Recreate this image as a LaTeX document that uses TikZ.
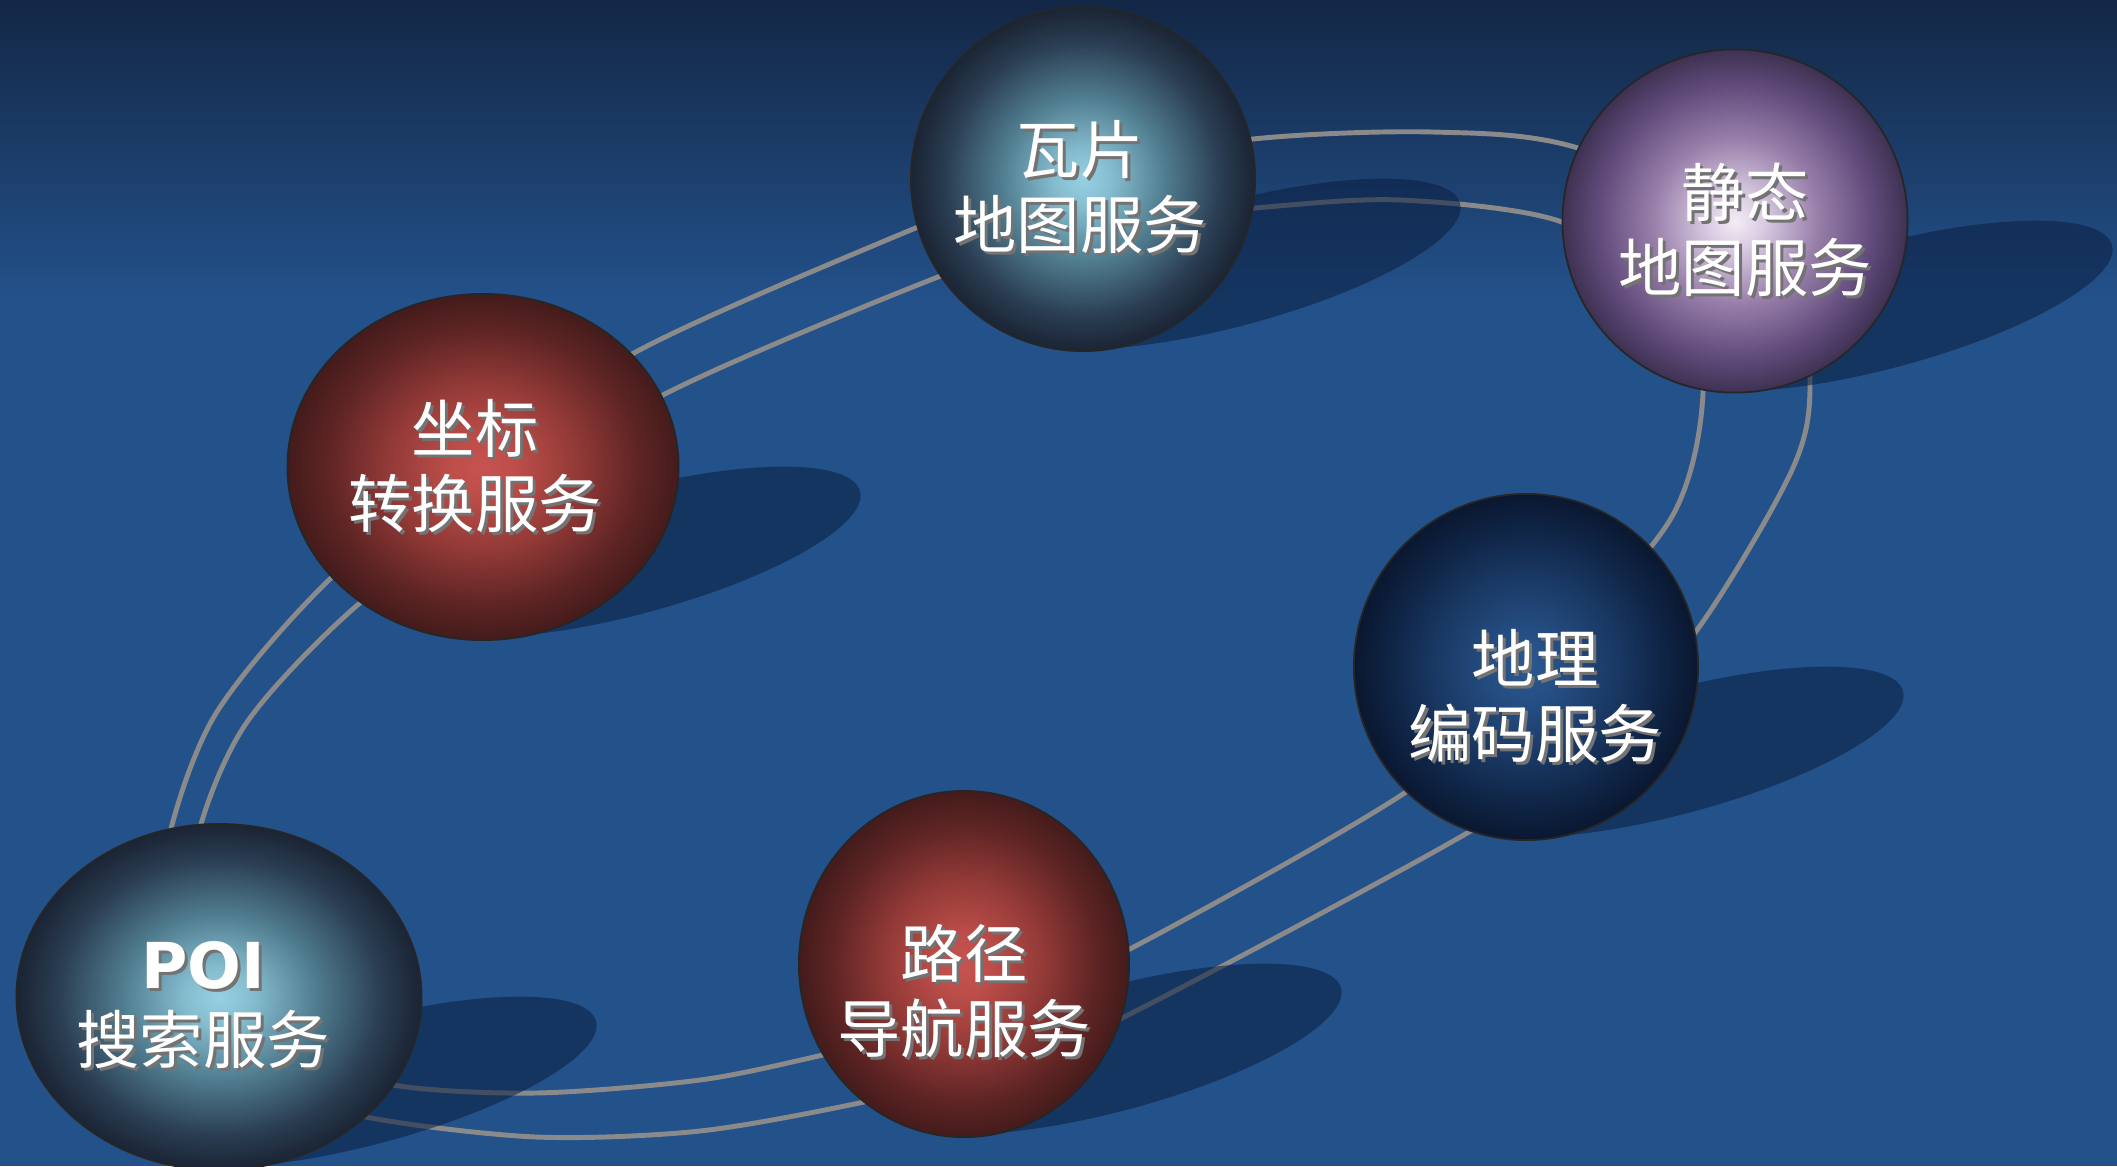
\documentclass[tikz,border=0pt]{standalone}
\usepackage{fontspec}
\usepackage{tikz}
\usetikzlibrary{shapes.geometric}
\newfontfamily\cjk{Noto Sans CJK SC}
\newfontfamily\poifont{DejaVu Sans}

\definecolor{bgblue}{HTML}{23518A}
\definecolor{bgtop}{HTML}{132746}
\definecolor{trackgray}{HTML}{8A8A8A}
\definecolor{shadowblue}{HTML}{0A1E40}

% sphere shadings (edge of the ball sits at 25bp)
\pgfdeclareradialshading{balltile}{\pgfpoint{0bp}{0bp}}{color(0bp)=(rgb,255:red,150;green,208;blue,226); color(4bp)=(rgb,255:red,134;green,190;blue,208); color(12bp)=(rgb,255:red,80;green,124;blue,143); color(20bp)=(rgb,255:red,42;green,61;blue,82); color(25bp)=(rgb,255:red,26;green,36;blue,52); color(50bp)=(rgb,255:red,26;green,36;blue,52)}
\pgfdeclareradialshading{ballviolet}{\pgfpoint{0bp}{0bp}}{color(0bp)=(rgb,255:red,244;green,236;blue,246); color(4bp)=(rgb,255:red,218;green,204;blue,226); color(12bp)=(rgb,255:red,152;green,127;blue,170); color(20bp)=(rgb,255:red,96;green,74;blue,122); color(25bp)=(rgb,255:red,62;green,49;blue,82); color(50bp)=(rgb,255:red,62;green,49;blue,82)}
\pgfdeclareradialshading{ballred}{\pgfpoint{0bp}{0bp}}{color(0bp)=(rgb,255:red,198;green,83;blue,79); color(4bp)=(rgb,255:red,190;green,78;blue,74); color(12bp)=(rgb,255:red,147;green,58;blue,55); color(20bp)=(rgb,255:red,94;green,36;blue,36); color(25bp)=(rgb,255:red,68;green,27;blue,27); color(50bp)=(rgb,255:red,68;green,27;blue,27)}
\pgfdeclareradialshading{ballnavy}{\pgfpoint{0bp}{0bp}}{color(0bp)=(rgb,255:red,44;green,88;blue,144); color(6bp)=(rgb,255:red,36;green,76;blue,128); color(14bp)=(rgb,255:red,24;green,54;blue,96); color(20bp)=(rgb,255:red,15;green,36;blue,69); color(25bp)=(rgb,255:red,10;green,23;blue,48); color(50bp)=(rgb,255:red,10;green,23;blue,48)}

\newcommand{\ballcaption}[3]{%
  \node[capshade, xshift=0.03cm, yshift=-0.03cm] (#1s) at (#2) {#3};
  \node[caption] (#1) at (#2) {#3};}

\begin{document}
\begin{tikzpicture}[x=0.01cm, y=-0.01cm,
  ball/.style={ellipse, shade, draw=black!85, line width=0.5pt, inner sep=0pt, outer sep=0pt},
  caption/.style={text=white, align=center, font=\cjk\fontsize{18pt}{21.5pt}\selectfont},
  capshade/.style={caption, text=black!55},
  track/.style={draw=trackgray, line width=1.4pt},
  dropshade/.style={fill=shadowblue, fill opacity=0.55}]
\useasboundingbox (0,0) rectangle (2117,1166);
\fill[bgblue] (0,0) rectangle (2117,1166);
\shade[top color=bgtop, bottom color=bgblue] (0,0) rectangle (2117,300);

\coordinate (tile) at (1083,179);
\coordinate (static) at (1735,221);
\coordinate (conv) at (483,467);
\coordinate (geo) at (1526,667);
\coordinate (route) at (964,964);
\coordinate (poi) at (219,997);

% the two rings
\draw[track] plot[smooth cycle] coordinates {(166,850) (215,715) (330,579) (480,460) (634,353) (863,250) (1070,170) (1253,139) (1432,132) (1578,148) (1790,240) (1810,380) (1792,470) (1697,630) (1590,745) (1469,832) (1122,1018) (990,1070) (864,1102) (700,1131) (536,1137) (366,1117) (250,1080) (165,960)};
\draw[track] plot[smooth cycle] coordinates {(195,850) (245,725) (361,602) (510,500) (663,395) (938,277) (1100,225) (1255,208) (1400,200) (1562,222) (1680,300) (1703,393) (1670,520) (1530,680) (1406,792) (1128,950) (970,1020) (823,1055) (700,1080) (536,1093) (393,1085) (290,1050) (210,950)};

% shadows
\fill[dropshade, rotate around={15:(1233,264)}] (1233,264) ellipse [x radius=235, y radius=62];
\fill[dropshade, rotate around={15:(1885,306)}] (1885,306) ellipse [x radius=235, y radius=62];
\fill[dropshade, rotate around={15:(633,552)}] (633,552) ellipse [x radius=235, y radius=62];
\fill[dropshade, rotate around={15:(1676,752)}] (1676,752) ellipse [x radius=235, y radius=62];
\fill[dropshade, rotate around={15:(1114,1049)}] (1114,1049) ellipse [x radius=235, y radius=62];
\fill[dropshade, rotate around={15:(369,1082)}] (369,1082) ellipse [x radius=235, y radius=62];

% spheres
\node[ball, shading=balltile, minimum width=3.44cm, minimum height=3.44cm] (tileball) at (tile) {};
\node[ball, shading=ballviolet, minimum width=3.45cm, minimum height=3.43cm] (staticball) at (static) {};
\node[ball, shading=ballred, minimum width=3.91cm, minimum height=3.46cm] (convball) at (conv) {};
\node[ball, shading=ballnavy, minimum width=3.44cm, minimum height=3.46cm] (geoball) at (geo) {};
\node[ball, shading=ballred, minimum width=3.30cm, minimum height=3.46cm] (routeball) at (route) {};
\node[ball, shading=balltile, minimum width=4.05cm, minimum height=3.46cm] (poiball) at (poi) {};

\ballcaption{tiletext}{1080,187}{瓦片\\地图服务}
\ballcaption{statictext}{1745,230}{静态\\地图服务}
\ballcaption{convtext}{475,466}{坐标\\转换服务}
\ballcaption{geotext}{1535,696}{地理\\编码服务}
\ballcaption{routetext}{964,991}{路径\\导航服务}
\ballcaption{poitext}{203,1005}{{\poifont\bfseries POI}\\搜索服务}
\end{tikzpicture}
\end{document}
